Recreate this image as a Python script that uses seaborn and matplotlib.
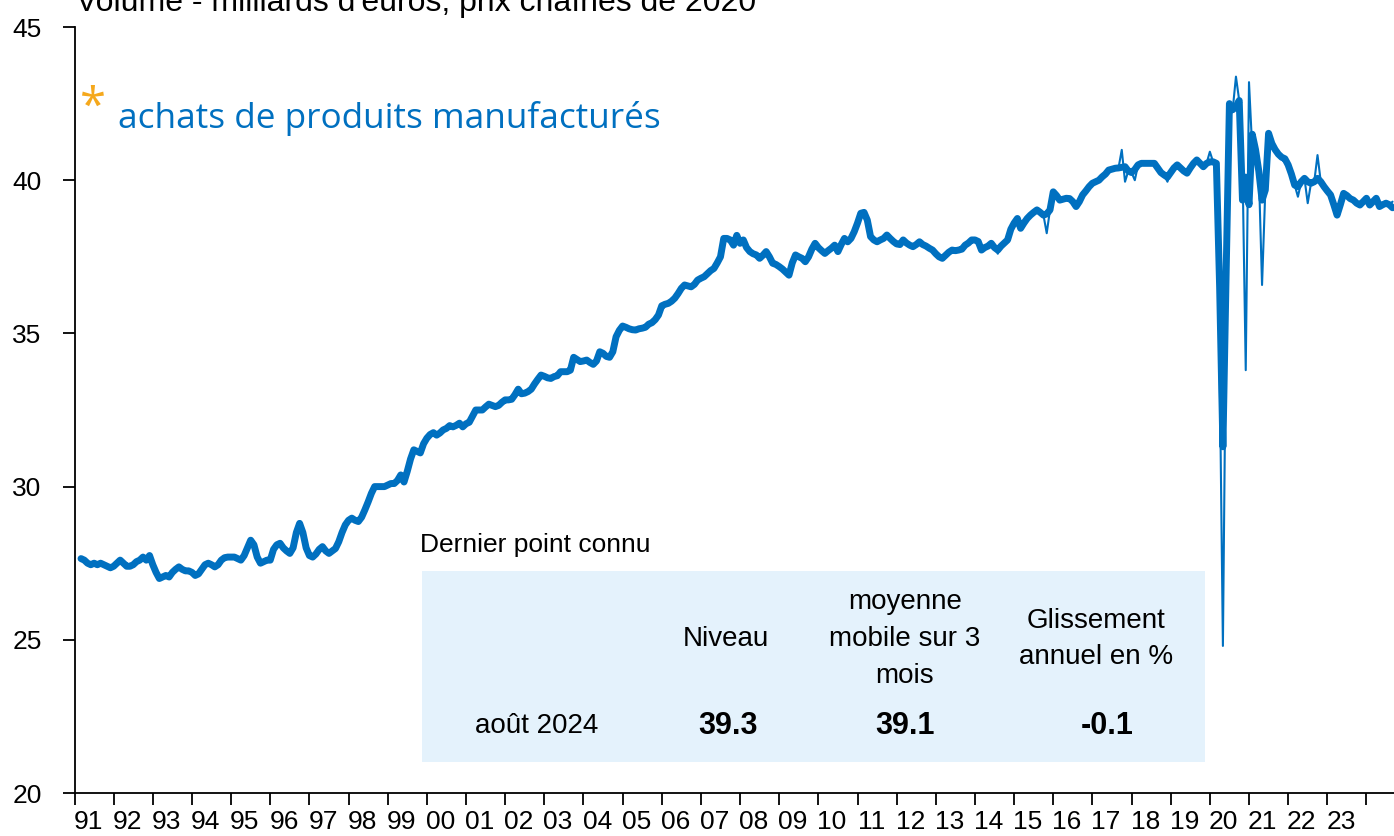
"""Achats de produits manufacturés - volume mensuel et moyenne mobile 3 mois."""

import pandas as pd
import matplotlib.pyplot as plt
import seaborn as sns
from matplotlib.patches import Rectangle

BLEU = "#0070C0"
ORANGE = "#F5A81C"
FOND_TABLEAU = "#E4F2FC"

# Moyenne mobile sur 3 mois (trait épais), à partir de février 1991
DEBUT = "1991-02"
moyenne_mobile_3m = [
    27.65, 27.6, 27.5, 27.45, 27.5, 27.45, 27.5, 27.45, 27.4, 27.35, 27.4,            # 1991
    27.5, 27.6, 27.5, 27.4, 27.4, 27.45, 27.55, 27.6, 27.7, 27.6, 27.75, 27.45,        # 1992
    27.2, 27.0, 27.05, 27.1, 27.05, 27.2, 27.3, 27.38, 27.3, 27.25, 27.25, 27.2,       # 1993
    27.1, 27.15, 27.3, 27.45, 27.5, 27.45, 27.38, 27.45, 27.6, 27.68, 27.7, 27.7,      # 1994
    27.7, 27.65, 27.6, 27.75, 28.0, 28.25, 28.1, 27.7, 27.5, 27.55, 27.6, 27.6,        # 1995
    27.95, 28.1, 28.15, 28.0, 27.9, 27.82, 28.0, 28.5, 28.8, 28.5, 28.0, 27.75,        # 1996
    27.7, 27.8, 27.95, 28.04, 27.9, 27.82, 27.9, 27.98, 28.2, 28.5, 28.75, 28.9,       # 1997
    28.97, 28.9, 28.86, 29.0, 29.24, 29.5, 29.78, 30.0, 30.0, 30.0, 30.0, 30.05,       # 1998
    30.1, 30.1, 30.2, 30.38, 30.15, 30.5, 30.9, 31.2, 31.15, 31.1, 31.4, 31.58,        # 1999
    31.7, 31.76, 31.68, 31.75, 31.85, 31.9, 31.99, 31.95, 32.0, 32.07, 31.95, 32.05,   # 2000
    32.1, 32.3, 32.5, 32.5, 32.5, 32.6, 32.69, 32.65, 32.61, 32.65, 32.75, 32.83,      # 2001
    32.83, 32.85, 33.0, 33.18, 33.03, 33.05, 33.1, 33.18, 33.35, 33.5, 33.64, 33.6,    # 2002
    33.55, 33.53, 33.59, 33.62, 33.75, 33.75, 33.75, 33.8, 34.22, 34.15, 34.08, 34.1,  # 2003
    34.13, 34.05, 33.99, 34.1, 34.4, 34.35, 34.25, 34.22, 34.4, 34.89, 35.1, 35.24,    # 2004
    35.2, 35.15, 35.12, 35.11, 35.15, 35.17, 35.2, 35.3, 35.35, 35.45, 35.6, 35.9,     # 2005
    35.95, 35.98, 36.05, 36.15, 36.3, 36.47, 36.58, 36.55, 36.52, 36.6, 36.74, 36.8,   # 2006
    36.85, 36.95, 37.05, 37.12, 37.3, 37.5, 38.1, 38.1, 38.05, 37.88, 38.2, 37.94,     # 2007
    38.05, 37.8, 37.67, 37.6, 37.56, 37.45, 37.55, 37.67, 37.5, 37.29, 37.25, 37.18,   # 2008
    37.1, 37.0, 36.9, 37.3, 37.56, 37.5, 37.45, 37.34, 37.5, 37.75, 37.94, 37.8,       # 2009
    37.7, 37.61, 37.7, 37.78, 37.88, 37.67, 37.9, 38.1, 37.99, 38.1, 38.32, 38.6,      # 2010
    38.92, 38.95, 38.7, 38.16, 38.05, 37.99, 38.05, 38.1, 38.21, 38.1, 38.0, 37.92,    # 2011
    37.9, 38.05, 37.95, 37.88, 37.83, 37.9, 37.99, 37.9, 37.85, 37.78, 37.72, 37.6,    # 2012
    37.5, 37.45, 37.55, 37.65, 37.72, 37.7, 37.72, 37.75, 37.88, 37.95, 38.05, 38.05,  # 2013
    38.0, 37.72, 37.8, 37.85, 37.94, 37.8, 37.72, 37.85, 37.95, 38.05, 38.4, 38.6,     # 2014
    38.75, 38.43, 38.6, 38.75, 38.86, 38.95, 39.03, 38.95, 38.86, 38.9, 39.03, 39.62,  # 2015
    39.5, 39.35, 39.38, 39.41, 39.4, 39.3, 39.14, 39.3, 39.52, 39.65, 39.79, 39.9,     # 2016
    39.95, 40.0, 40.11, 40.2, 40.33, 40.36, 40.39, 40.4, 40.42, 40.44, 40.3, 40.25,    # 2017
    40.35, 40.5, 40.55, 40.55, 40.55, 40.55, 40.55, 40.4, 40.25, 40.17, 40.1, 40.25,   # 2018
    40.4, 40.5, 40.4, 40.3, 40.23, 40.4, 40.55, 40.66, 40.55, 40.44, 40.55, 40.6,      # 2019
    40.6, 40.55, 36.5, 31.3, 37.0, 42.5, 42.3, 42.4, 42.6, 39.35, 40.1, 39.2,          # 2020
    41.5, 41.0, 40.3, 39.35, 39.68, 41.53, 41.2, 41.0, 40.85, 40.75, 40.7, 40.5,       # 2021
    40.2, 39.84, 39.79, 39.95, 40.06, 39.95, 39.9, 39.95, 40.06, 39.95, 39.79, 39.65,  # 2022
    39.52, 39.2, 38.86, 39.2, 39.57, 39.5, 39.4, 39.35, 39.25, 39.19, 39.3, 39.41,     # 2023
    39.19, 39.3, 39.41, 39.14, 39.2, 39.25, 39.2, 39.1,                                # 2024
]

# Niveau mensuel (trait fin) : mois où il s'écarte de la moyenne mobile
ecarts_mensuels = {
    "2014-07": 37.6, "2015-10": 38.27, "2017-09": 40.99, "2017-10": 39.95,
    "2018-01": 40.0, "2018-11": 39.95, "2019-12": 40.93,
    "2020-03": 34.0, "2020-04": 24.8, "2020-05": 36.0, "2020-08": 43.38,
    "2020-10": 40.5, "2020-11": 33.8, "2020-12": 43.2, "2021-01": 41.0,
    "2021-04": 36.58, "2022-03": 39.46, "2022-06": 39.25, "2022-09": 40.82,
    "2024-08": 39.3,
}

annees = list(range(1991, 2024))
etiquettes_annees = [f"{a % 100:02d}" for a in annees]

tableau_titre = "Dernier point connu"
tableau_periode = "août 2024"
tableau_entetes = ["Niveau", "moyenne\nmobile sur 3\nmois", "Glissement\nannuel en %"]
tableau_valeurs = ["39.3", "39.1", "-0.1"]

W, H = 1394, 836


def fx(px):
    return px / W


def fy(py):
    return 1 - py / H


def main():
    mois = pd.period_range(DEBUT, periods=len(moyenne_mobile_3m), freq="M")
    niveau = list(moyenne_mobile_3m)
    for cle, val in ecarts_mensuels.items():
        niveau[mois.get_loc(pd.Period(cle, freq="M"))] = val

    df = pd.DataFrame({
        "date": mois.year + mois.month / 12,  # position fin de mois
        "moyenne": moyenne_mobile_3m,
        "niveau": niveau,
    })

    sns.set_style("ticks")
    plt.rcParams["font.family"] = ["Liberation Sans Narrow", "Liberation Sans", "DejaVu Sans"]

    fig = plt.figure(figsize=(W / 100, H / 100), dpi=100)
    ax = fig.add_axes([fx(74.5), fy(793), fx(W - 74.5), (793 - 27) / H])

    sns.lineplot(data=df, x="date", y="moyenne", color=BLEU, linewidth=5.0,
                 sort=False, estimator=None, ax=ax)
    sns.lineplot(data=df, x="date", y="niveau", color=BLEU, linewidth=1.5,
                 sort=False, estimator=None, ax=ax)

    ax.set_xlim(1991, 1991 + (W - 74.5) / 39.15)
    ax.set_ylim(20, 45)
    ax.set_xlabel("")
    ax.set_ylabel("")

    ax.set_yticks(range(20, 46, 5))
    ax.set_xticks(range(1991, 2025))
    ax.set_xticklabels([])
    ax.set_xticks([a + 0.35 for a in annees], minor=True)
    ax.set_xticklabels(etiquettes_annees, minor=True)

    ax.tick_params(axis="both", which="major", length=8.6, width=1.3,
                   color="black", labelsize=19, labelcolor="black")
    ax.tick_params(axis="y", pad=15)
    ax.tick_params(axis="x", which="minor", length=0, pad=12,
                   labelsize=19, labelcolor="black")
    for side in ("left", "bottom"):
        ax.spines[side].set_linewidth(1.3)
        ax.spines[side].set_color("black")
    sns.despine(ax=ax)

    # titres
    fig.text(fx(76), fy(11.5), "Volume - milliards d'euros, prix chaînés de 2020",
             fontsize=23, color="black", va="baseline", ha="left")
    fig.text(fx(93), fy(121), "*", fontsize=34, color=ORANGE, family="Open Sans",
             va="baseline", ha="center")
    fig.text(fx(118), fy(128), "achats de produits manufacturés", fontsize=25.3,
             color=BLEU, family="Open Sans", va="baseline", ha="left")

    # encadré "Dernier point connu"
    fig.patches.append(Rectangle((fx(422), fy(762)), fx(1205 - 422), (762 - 571) / H,
                                 transform=fig.transFigure, facecolor=FOND_TABLEAU,
                                 edgecolor="none", zorder=0))
    police = dict(family="Liberation Sans", color="black")
    fig.text(fx(420), fy(545), tableau_titre, fontsize=19, ha="left", va="center", **police)
    for texte, xc in zip(tableau_entetes, (726, 905, 1096)):
        fig.text(fx(xc), fy(639), texte, fontsize=20, ha="center", va="center",
                 linespacing=1.55, **police)
    fig.text(fx(537), fy(726), tableau_periode, fontsize=20, ha="center", va="center", **police)
    for texte, xc in zip(tableau_valeurs, (728, 905, 1107)):
        fig.text(fx(xc), fy(726), texte, fontsize=22, fontweight="bold",
                 ha="center", va="center", **police)

    fig.savefig("out.png", dpi=100)
    plt.close(fig)


if __name__ == "__main__":
    main()
